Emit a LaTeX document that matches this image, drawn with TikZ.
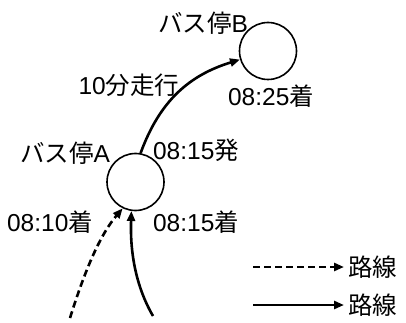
\documentclass[tikz,border=0pt]{standalone}
\usepackage{fontspec}
\setmainfont{Liberation Sans}
\newfontfamily\jp{Noto Sans CJK JP}
\usetikzlibrary{arrows.meta}

\tikzset{
  stop/.style={circle, draw, line width=1.6pt, minimum size=57pt, inner sep=0pt},
  lbl/.style={inner sep=0pt, font=\fontsize{24.5}{28}\selectfont},
  route/.style={line width=2.6pt, -{Triangle[length=10pt,width=8pt]}},
  dashroute/.style={route, dash pattern=on 7pt off 4pt}
}

\begin{document}
\begin{tikzpicture}[x=1pt, y=-1pt]
\useasboundingbox (0,0) rectangle (406,323);

% stops
\node[stop] (A) at (135.5,182) {};
\node[stop] (B) at (268,51) {};

% labels
\node[lbl] (labB) at (203,23) {{\jp バス停}B};
\node[lbl] (labA) at (65,153) {{\jp バス停}A};
\node[lbl] (run) at (129,85) {10{\jp 分走行}};
\node[lbl] (arrB) at (271,96) {08:25{\jp 着}};
\node[lbl] (depA) at (196,150) {08:15{\jp 発}};
\node[lbl] (arrA1) at (50,222) {08:10{\jp 着}};
\node[lbl] (arrA2) at (196,222) {08:15{\jp 着}};

% routes
\coordinate (s1) at (70,318);
\coordinate (s2) at (153,316);
\draw[route] (A.80) .. controls (160,100) and (190,75) .. (B.197);
\draw[route] (s2) .. controls (135,285) and (130,250) .. (A.262);
\draw[dashroute] (s1) .. controls (85,270) and (100,235) .. (A.244);

% legend
\coordinate (l1) at (253,267);
\coordinate (l2) at (253,305);
\node[lbl, anchor=west] (leg1) at (348,267) {\jp 路線};
\node[lbl, anchor=west] (leg2) at (348,305) {\jp 路線};
\draw[dashroute, shorten >=4pt] (l1) -- (leg1.west);
\draw[route, shorten >=4pt] (l2) -- (leg2.west);
\end{tikzpicture}
\end{document}
